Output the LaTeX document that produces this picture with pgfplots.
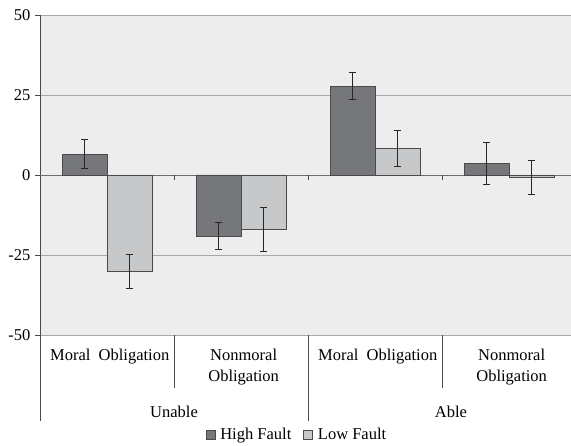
\documentclass[border=0pt]{standalone}
\usepackage{fontspec}
\setmainfont{Liberation Serif}
\usepackage{pgfplots}
\pgfplotsset{compat=1.18}
\usepackage{pgfplotstable}

\definecolor{bgc}{HTML}{EDEDED}
\definecolor{hf}{HTML}{76777A}
\definecolor{lf}{HTML}{C7C8CA}
\definecolor{edge}{HTML}{4A4A4A}
\definecolor{gridc}{HTML}{A8A8A8}

% group: 0 Unable/Moral, 1 Unable/Nonmoral, 2 Able/Moral, 3 Able/Nonmoral
\pgfplotstableread{
x y e
0 6.5 4.5
1 -19.1 4.3
2 27.8 4.3
3 3.6 6.7
}\highfault
\pgfplotstableread{
x y e
0 -30.0 5.3
1 -17.1 6.8
2 8.3 5.6
3 -0.9 5.3
}\lowfault

\begin{document}
\begin{tikzpicture}[x=1pt,y=1pt]
\useasboundingbox (0,0) rectangle (571,446);
\begin{axis}[
    at={(40pt,111pt)}, anchor=south west,
    scale only axis, width=531pt, height=320pt,
    xmin=-0.5, xmax=3.4627, ymin=-50, ymax=50,
    axis background/.style={fill=bgc},
    axis lines*=left,
    axis line style={edge, line width=0.8pt},
    x axis line style={draw=none},
    xtick=\empty,
    ytick={-50,-25,0,25,50},
    ymajorgrids, grid style={gridc, line width=0.8pt},
    tick align=outside, major tick length=5pt,
    tick style={edge, line width=0.8pt},
    /pgf/number format/assume math mode=true,
    yticklabel style={font=\fontsize{16.5}{18}\selectfont, xshift=-1pt},
    clip=false,
    legend style={at={(0.484,-0.3125)}, anchor=center, draw=none, fill=none,
        legend columns=2, font=\fontsize{16.5}{18}\selectfont,
        /tikz/every even column/.append style={column sep=10pt}},
    legend image code/.code={\draw[#1,draw=edge] (0pt,-4.5pt) rectangle (9pt,4.5pt);},
]
\draw[edge!80, line width=0.9pt] (axis cs:-0.5,0) -- (axis cs:3.4627,0);
\draw[edge, line width=0.8pt] (axis cs:0.5,0) -- ++(0pt,-5pt);
\draw[edge, line width=0.8pt] (axis cs:1.5,0) -- ++(0pt,-5pt);
\draw[edge, line width=0.8pt] (axis cs:2.5,0) -- ++(0pt,-5pt);

\addplot[ybar, bar width=45pt, bar shift=0pt, fill=hf, draw=edge, line width=0.8pt,
    error bars/.cd, y dir=both, y explicit,
    error bar style={black!85, line width=0.9pt},
    error mark options={rotate=90, mark size=3.5pt, line width=0.9pt, black!85}]
    table[x expr=\thisrow{x}-0.16791, y=y, y error=e] {\highfault};
\addlegendentry{\,High Fault}
\addplot[ybar, bar width=45pt, bar shift=0pt, fill=lf, draw=edge, line width=0.8pt,
    error bars/.cd, y dir=both, y explicit,
    error bar style={black!85, line width=0.9pt},
    error mark options={rotate=90, mark size=3.5pt, line width=0.9pt, black!85}]
    table[x expr=\thisrow{x}+0.16791, y=y, y error=e] {\lowfault};
\addlegendentry{\,Low Fault}

% category separators below the plot
\draw[edge, line width=0.8pt] (axis cs:-0.5,-50) -- ++(0pt,-86pt);
\draw[edge, line width=0.8pt] (axis cs:1.5,-50) -- ++(0pt,-86pt);
\draw[edge, line width=0.8pt] (axis cs:0.5,-50) -- ++(0pt,-53pt);
\draw[edge, line width=0.8pt] (axis cs:2.5,-50) -- ++(0pt,-53pt);

\node[font=\fontsize{16.5}{21}\selectfont, align=center, inner sep=0pt] at ([yshift=-22pt]axis cs:0.02,-50) {Moral~~Obligation};
\node[font=\fontsize{16.5}{21}\selectfont, align=center, inner sep=0pt] at ([yshift=-32.5pt]axis cs:1.02,-50) {Nonmoral\\Obligation};
\node[font=\fontsize{16.5}{21}\selectfont, align=center, inner sep=0pt] at ([yshift=-22pt]axis cs:2.02,-50) {Moral~~Obligation};
\node[font=\fontsize{16.5}{21}\selectfont, align=center, inner sep=0pt] at ([yshift=-32.5pt]axis cs:3.02,-50) {Nonmoral\\Obligation};
\node[font=\fontsize{16.5}{21}\selectfont, inner sep=0pt] at ([yshift=-77pt]axis cs:0.5,-50) {Unable};
\node[font=\fontsize{16.5}{21}\selectfont, inner sep=0pt] at ([yshift=-77pt]axis cs:2.567,-50) {Able};
\end{axis}
\end{tikzpicture}
\end{document}
